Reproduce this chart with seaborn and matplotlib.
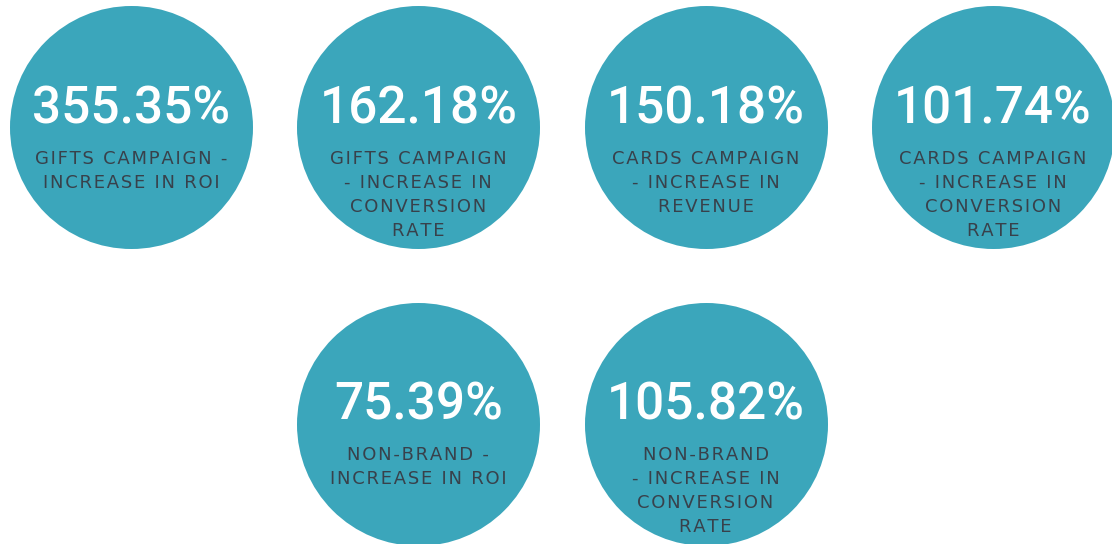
import matplotlib
matplotlib.use("Agg")
import matplotlib.pyplot as plt
import seaborn as sns

# values and captions, left to right, top row first
values = ["355.35%", "162.18%", "150.18%", "101.74%", "75.39%", "105.82%"]
captions = [
    "GIFTS CAMPAIGN -\nINCREASE IN ROI",
    "GIFTS CAMPAIGN\n- INCREASE IN\nCONVERSION\nRATE",
    "CARDS CAMPAIGN\n- INCREASE IN\nREVENUE",
    "CARDS CAMPAIGN\n- INCREASE IN\nCONVERSION\nRATE",
    "NON-BRAND -\nINCREASE IN ROI",
    "NON-BRAND\n- INCREASE IN\nCONVERSION\nRATE",
]

# grid slot for each badge (layout only)
col = [0, 1, 2, 3, 1, 2]
row = [0, 0, 0, 0, 1, 1]

TEAL = "#3ba6bb"
INK = "#38414b"
W, H = 1112, 544

sns.set_theme(style="white")
plt.rcParams["font.family"] = ["DejaVu Sans"]


def spaced(s):
    # fake letter spacing with hair spaces
    return "\u200a".join(s)


fig = plt.figure(figsize=(W / 100, H / 100), dpi=100)
ax = fig.add_axes([0, 0, 1, 1])

cx = [131 + 287.3 * c for c in col]
cy = [127 + 297 * r for r in row]

diam_pt = 243 * 72 / 100
sns.scatterplot(x=cx, y=cy, s=diam_pt ** 2, color=TEAL, linewidth=0,
                legend=False, ax=ax)

for x, y, v, cap in zip(cx, cy, values, captions):
    ax.text(x, y - 18, v, ha="center", va="center", color="white",
            fontsize=37, fontweight="medium", family=["Roboto", "DejaVu Sans"])
    for i, line in enumerate(cap.split("\n")):
        ax.text(x, y + 31.5 + 24 * i, spaced(line), ha="center", va="center",
                color=INK, fontsize=13, family=["DejaVu Sans"])

ax.set_xlim(0, W)
ax.set_ylim(H, 0)
ax.set_axis_off()

fig.savefig("out.png", dpi=100)
